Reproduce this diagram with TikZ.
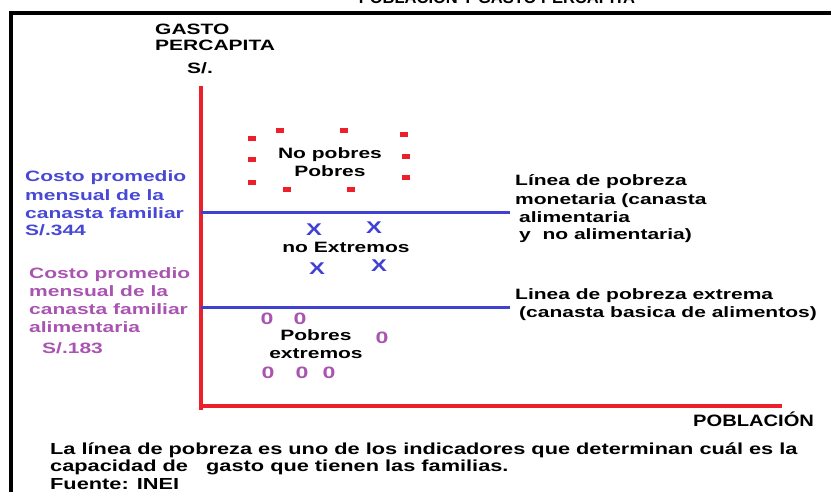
\documentclass[tikz,border=0pt]{standalone}
\usepackage{fontspec}
\setmainfont{Liberation Sans}
\newfontfamily\widesans[FakeStretch=1.4]{Liberation Sans}
\newfontfamily\bodysans[FakeStretch=1.36]{Liberation Sans}
\newfontfamily\midsans[FakeStretch=1.22]{Liberation Sans}
\definecolor{ejered}{RGB}{235,32,42}
\definecolor{lineablue}{RGB}{64,64,210}
\definecolor{costoblue}{RGB}{72,72,214}
\definecolor{costopurple}{RGB}{168,84,176}
\tikzset{
  eje/.style={ejered, line width=4pt},
  linea/.style={lineablue, line width=3pt},
  rotulo/.style={inner sep=0pt, anchor=base west, align=left,
    font=\widesans\bfseries\fontsize{15}{18}\selectfont},
  centro/.style={rotulo, anchor=base, align=center},
  cruz/.style={inner sep=0pt, text=lineablue, font=\widesans\bfseries\fontsize{17}{17}\selectfont},
  cero/.style={inner sep=0pt, text=costopurple, font=\widesans\bfseries\fontsize{16.5}{17}\selectfont},
}

\begin{document}
\begin{tikzpicture}[x=1pt, y=-1pt]
    \useasboundingbox (0,0) rectangle (831,492);
    \clip (0,0) rectangle (831,492);
    % marco y titulo
    \draw[line width=4pt] (11,492) -- (11,13) -- (831,13);
    \node[anchor=base, inner sep=0pt, font=\bfseries\fontsize{16.5}{18}\selectfont] (titulo) at (497,3.5) {POBLACIÓN Y GASTO PERCAPITA};
    % ejes
    \coordinate (origen) at (201,406);
    \coordinate (ytope) at (201,86);
    \coordinate (xfin) at (782,406);
    \draw[eje] (201,410) -- (ytope);
    \draw[eje] (199,406) -- (xfin);
    \node[rotulo, font=\widesans\bfseries\fontsize{15}{16}\selectfont] (gasto) at (155,51) {GASTO\\PERCAPITA};
    \node[rotulo, font=\widesans\bfseries\fontsize{15}{16}\selectfont] (soles) at (187,74) {S/.};
    \node[rotulo, font=\midsans\bfseries\fontsize{16.5}{18}\selectfont] (poblacion) at (693,426) {POBLACIÓN};
    % lineas de pobreza
    \coordinate (lpm) at (201,213);
    \coordinate (lpmfin) at (510,213);
    \coordinate (lpe) at (201,307);
    \coordinate (lpefin) at (510,307);
    \draw[linea] (lpm) -- (lpmfin);
    \draw[linea] (lpe) -- (lpefin);
    \node[rotulo, text=costoblue] (costo) at (25,236) {Costo promedio\\mensual de la\\canasta familiar\\S/.344};
    \node[rotulo, text=costopurple] (costoali) at (29,332) {Costo promedio\\mensual de la\\canasta familiar\\alimentaria};
    \node[rotulo, text=costopurple] (soles183) at (42,353) {S/.183};
    \node[rotulo] (monetaria) at (515,240) {Línea de pobreza\\monetaria (canasta\\\hspace*{4pt}alimentaria\\\hspace*{4pt}y\ \ no alimentaria)};
    \node[rotulo] (extrema) at (515,317) {Linea de pobreza extrema\\\hspace*{4pt}(canasta basica de alimentos)};
    % no pobres
    \foreach \px/\py in {252/139, 280/131, 344/131, 404/135, 252/160, 406/157, 252/183, 287/190, 351/190, 406/178}
        \fill[ejered] (\px-4,\py-2.5) rectangle (\px+4,\py+2.5);
    \node[centro] (nopobres) at (330,177) {No pobres\\Pobres};
    % pobres no extremos
    \foreach \px/\py in {314/230, 374/228, 317/269, 379/266}
        \node[cruz] at (\px,\py) {X};
    \node[centro] (noextremos) at (346,253) {no Extremos};
    % pobres extremos
    \foreach \px/\py in {267/319, 300/319, 382/338, 268/373, 302/373, 329/373}
        \node[cero] at (\px,\py) {0};
    \node[centro] (extremos) at (316,358) {Pobres\\extremos};
    % nota
    \node[rotulo, font=\bodysans\bfseries\fontsize{16}{17.5}\selectfont] (nota) at (50,489) {La línea de pobreza es uno de los indicadores que determinan cuál es la\\capacidad de\ \ \ gasto que tienen las familias.\\Fuente: INEI};
\end{tikzpicture}
\end{document}
